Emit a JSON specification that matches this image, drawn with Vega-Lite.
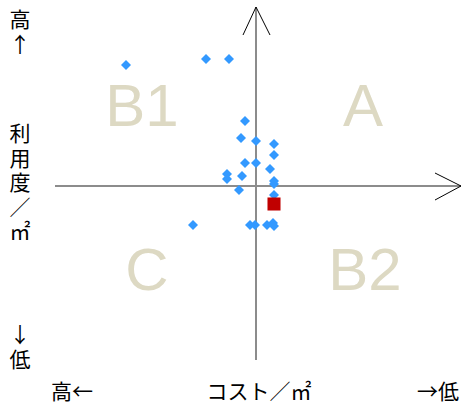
{
  "$schema": "https://vega.github.io/schema/vega-lite/v6.json",
  "width": 462,
  "height": 405,
  "padding": 0,
  "autosize": "none",
  "background": "white",
  "config": {"view": {"stroke": null}},
  "datasets": {
    "axes": [
      {"x": -10.05, "x2": 10.25, "y": 0, "y2": 0},
      {"x": 0, "x2": 0, "y": 8.95, "y2": -8.7}
    ],
    "heads": [
      {"g": "h", "o": 1, "x": 8.95, "y": 0.65},
      {"g": "h", "o": 2, "x": 10.25, "y": 0},
      {"g": "h", "o": 3, "x": 8.95, "y": -0.7},
      {"g": "v", "o": 1, "x": -0.65, "y": 7.55},
      {"g": "v", "o": 2, "x": 0, "y": 8.95},
      {"g": "v", "o": 3, "x": 0.7, "y": 7.55}
    ],
    "quadrants": [
      {"label": "B1", "x": -5.7, "y": 3.0},
      {"label": "A", "x": 5.35, "y": 3.0},
      {"label": "C", "x": -5.45, "y": -5.2},
      {"label": "B2", "x": 5.45, "y": -5.2}
    ],
    "labels": [
      {"t": "高\n↑", "x": -11.8, "y": 8.25},
      {"t": "利\n用\n度\n／\n㎡", "x": -11.8, "y": 2.55},
      {"t": "↓\n低", "x": -11.8, "y": -7.5},
      {"t": "高←", "x": -9.2, "y": -10.35},
      {"t": "コスト／㎡", "x": 0.15, "y": -10.35},
      {"t": "→低", "x": 9.1, "y": -10.35}
    ],
    "points": [
      {"cost": -6.5, "use": 6.05},
      {"cost": -2.5, "use": 6.35},
      {"cost": -1.35, "use": 6.35},
      {"cost": -0.55, "use": 3.25},
      {"cost": -0.75, "use": 2.4},
      {"cost": 0, "use": 2.25},
      {"cost": 0.9, "use": 2.1},
      {"cost": 0.9, "use": 1.55},
      {"cost": -0.55, "use": 1.15},
      {"cost": 0, "use": 1.15},
      {"cost": 0.7, "use": 0.85},
      {"cost": -1.45, "use": 0.6},
      {"cost": -1.45, "use": 0.35},
      {"cost": -0.7, "use": 0.5},
      {"cost": 0.9, "use": 0.25},
      {"cost": 0.9, "use": 0.1},
      {"cost": -0.85, "use": -0.2},
      {"cost": 0.9, "use": -0.45},
      {"cost": -3.15, "use": -1.95},
      {"cost": -0.3, "use": -1.95},
      {"cost": -0.05, "use": -1.95},
      {"cost": 0.55, "use": -1.95},
      {"cost": 0.85, "use": -1.85},
      {"cost": 0.9, "use": -2.0}
    ],
    "own": [
      {"cost": 0.9, "use": -0.9}
    ]
  },
  "layer": [
    {
      "data": {"name": "axes"},
      "mark": {"type": "rule", "color": "#8c8c8c", "strokeWidth": 2},
      "encoding": {
        "x": {"field": "x", "type": "quantitative", "scale": {"domain": [-12.8, 10.3], "nice": false, "zero": false}, "axis": null},
        "x2": {"field": "x2"},
        "y": {"field": "y", "type": "quantitative", "scale": {"domain": [-10.95, 9.3], "nice": false, "zero": false}, "axis": null},
        "y2": {"field": "y2"}
      }
    },
    {
      "data": {"name": "heads"},
      "mark": {"type": "line", "color": "#000000", "strokeWidth": 1},
      "encoding": {
        "x": {"field": "x", "type": "quantitative"},
        "y": {"field": "y", "type": "quantitative"},
        "detail": {"field": "g"},
        "order": {"field": "o"}
      }
    },
    {
      "data": {"name": "quadrants"},
      "mark": {"type": "text", "font": "Liberation Sans", "fontSize": 60, "color": "#ddd9c3", "baseline": "alphabetic", "align": "center"},
      "encoding": {
        "x": {"field": "x", "type": "quantitative"},
        "y": {"field": "y", "type": "quantitative"},
        "text": {"field": "label"}
      }
    },
    {
      "data": {"name": "labels"},
      "mark": {"type": "text", "font": "Noto Sans CJK JP", "fontSize": 21, "color": "#000000", "baseline": "middle", "align": "center", "lineBreak": "\n", "lineHeight": 24.5},
      "encoding": {
        "x": {"field": "x", "type": "quantitative"},
        "y": {"field": "y", "type": "quantitative"},
        "text": {"field": "t"}
      }
    },
    {
      "data": {"name": "points"},
      "mark": {"type": "point", "shape": "diamond", "filled": true, "size": 100, "color": "#3399ff", "opacity": 1},
      "encoding": {
        "x": {"field": "cost", "type": "quantitative"},
        "y": {"field": "use", "type": "quantitative"}
      }
    },
    {
      "data": {"name": "own"},
      "mark": {"type": "point", "shape": "square", "filled": true, "size": 170, "color": "#c00000", "opacity": 1},
      "encoding": {
        "x": {"field": "cost", "type": "quantitative"},
        "y": {"field": "use", "type": "quantitative"}
      }
    }
  ]
}
